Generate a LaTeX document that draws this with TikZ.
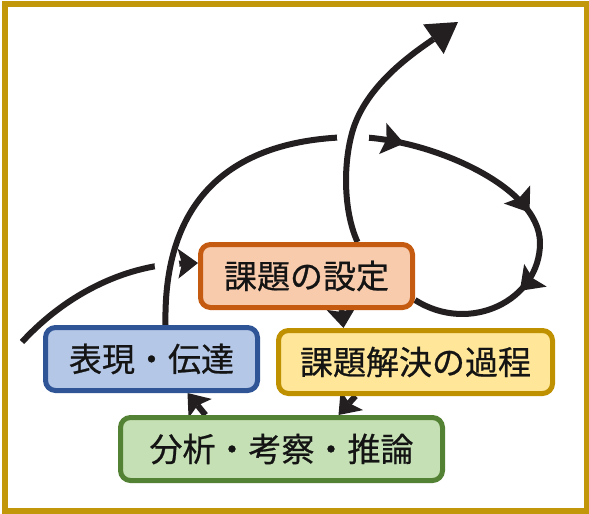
\documentclass[tikz,border=0pt]{standalone}
\usepackage{fontspec}
\newfontfamily\jp[FakeBold=0.7]{Noto Sans CJK JP}
\usetikzlibrary{arrows.meta,decorations.markings}
\pgfdeclarelayer{bg}
\pgfsetlayers{bg,main}
\definecolor{framecol}{RGB}{194,152,10}
\definecolor{ink}{RGB}{35,31,32}
\definecolor{txt}{RGB}{20,20,20}
\definecolor{orgd}{HTML}{C55A11}
\definecolor{orgl}{HTML}{F8CBAD}
\definecolor{blud}{HTML}{2F5597}
\definecolor{blul}{HTML}{B4C7E7}
\definecolor{yeld}{HTML}{BF9000}
\definecolor{yell}{HTML}{FFE699}
\definecolor{grnd}{HTML}{548235}
\definecolor{grnl}{HTML}{C5E0B4}
\begin{document}
\begin{tikzpicture}[x=1pt,y=-1pt,
  box/.style={draw, line width=5pt, rounded corners=10pt, minimum height=63pt,
    inner sep=0pt, font=\jp\fontsize{33}{38}\selectfont, text=txt},
  conn/.style={ink, line width=6pt},
  endhead/.style={-{Stealth[length=20pt,width=30pt,inset=4pt,line width=0pt]}},
]
\useasboundingbox (0,0) rectangle (589,514);
\draw[framecol, line width=6pt] (5,4) rectangle (586.5,511);

\node[box, draw=orgd, fill=orgl, minimum width=212pt] (setting) at (306.5,276) {課題の設定};
\node[box, draw=blud, fill=blul, minimum width=212pt] (express) at (151.5,359) {表現・伝達};
\node[box, draw=yeld, fill=yell, minimum width=274pt] (process) at (415.5,362) {課題解決の過程};
\node[box, draw=grnd, fill=grnl, minimum width=322pt] (analysis) at (281.5,449) {分析・考察・推論};

\coordinate (start) at (22,342);
\coordinate (goal) at (458,22);
\coordinate (x1) at (167,265);
\coordinate (x2) at (353,137);

\begin{pgfonlayer}{bg}
  % incoming arc (under)
  \draw[conn, endhead] (start) .. controls (70,290) and (130,265) .. ([yshift=13pt]setting.west);
  \fill[white] (x1) circle (12.5pt);
  % big loop from express back to setting
  \draw[conn,
    postaction={decorate},
    decoration={markings,
      mark=at position 356pt with {\arrow{Stealth[length=22pt,width=32pt,inset=4pt,line width=0pt]}},
      mark=at position 502pt with {\arrow{Stealth[length=22pt,width=32pt,inset=4pt,line width=0pt]}},
      mark=at position 588pt with {\arrow{Stealth[length=22pt,width=32pt,inset=4pt,line width=0pt]}}}]
    ([xshift=14pt]express.north) .. controls (163,200) and (230,139) .. (x2)
    .. controls (425,137) and (540,185) .. (540,243)
    .. controls (540,300) and (470,335) .. ([yshift=-24pt]setting.east);
  \fill[white] (x2) circle (16pt);
  % exit arrow
  \draw[conn, -{Triangle[length=30pt,width=36pt,line width=0pt]}]
    ([xshift=51pt]setting.north) .. controls (345,215) and (342,170) .. (352,133)
    .. controls (365,85) and (415,52) .. (goal);
  % short arrows between boxes
  \draw[conn, endhead] ([xshift=35pt]setting.south) -- ([xshift=-72pt]process.north);
  \draw[conn, endhead] ([xshift=-60pt]process.south) -- ([xshift=57pt]analysis.north);
  \draw[conn, endhead] ([xshift=-76pt]analysis.north) -- ([xshift=36pt]express.south);
\end{pgfonlayer}
\end{tikzpicture}
\end{document}
